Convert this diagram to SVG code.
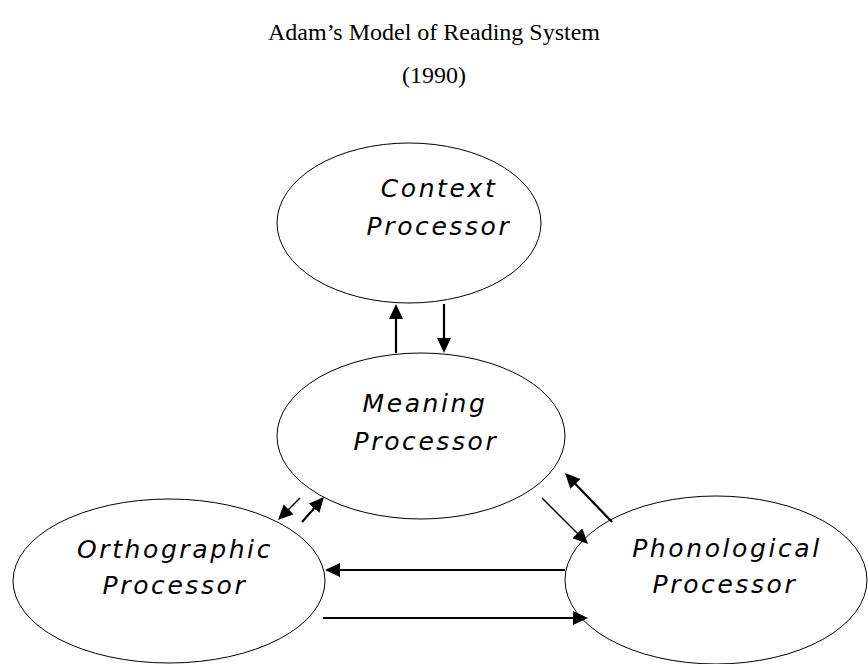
<svg xmlns="http://www.w3.org/2000/svg" width="868" height="664" viewBox="0 0 868 664">
<style>
.title{font-family:"Liberation Serif","Times New Roman",serif;font-size:24px;fill:#000;text-anchor:middle}
.node ellipse{fill:#fff;stroke:#000;stroke-width:1}
.node text{font-family:"DejaVu Sans",Verdana,sans-serif;font-style:italic;font-size:25px;letter-spacing:2.6px;fill:#000;text-anchor:middle}
.conn line{stroke:#000;stroke-width:2.2;marker-end:url(#ah)}
.conn line.thin{stroke-width:1.4}
</style>
<defs>
<marker id="ah" markerUnits="userSpaceOnUse" markerWidth="16" markerHeight="15" refX="2" refY="7" orient="auto" viewBox="0 0 16 15">
<path d="M0,0 L15,7 L0,14 z" fill="#000"/>
</marker>
</defs>
<rect width="868" height="664" fill="#fff"/>
<text class="title" x="434" y="40">Adam’s Model of Reading System</text>
<text class="title" x="434" y="83">(1990)</text>
<g id="context" class="node">
<ellipse cx="409" cy="223" rx="132" ry="80"/>
<text x="439" y="197">Context</text>
<text x="439" y="235">Processor</text>
</g>
<g id="meaning" class="node">
<ellipse cx="421" cy="436" rx="144" ry="83"/>
<text x="425" y="412">Meaning</text>
<text x="426" y="450">Processor</text>
</g>
<g id="orthographic" class="node">
<ellipse cx="169" cy="581" rx="156" ry="82"/>
<text x="175" y="558">Orthographic</text>
<text x="175" y="594">Processor</text>
</g>
<g id="phonological" class="node">
<ellipse cx="716" cy="580" rx="151" ry="84"/>
<text x="727" y="557">Phonological</text>
<text x="725" y="593">Processor</text>
</g>
<g id="connectors" class="conn">
<line x1="396" y1="353" x2="396" y2="317"/>
<line x1="444" y1="304" x2="444" y2="340"/>
<line class="thin" x1="542" y1="498" x2="578.8" y2="534.8"/>
<line x1="612" y1="522" x2="574" y2="482.4"/>
<line class="thin" x1="300" y1="498" x2="287.2" y2="510.8"/>
<line x1="302" y1="522" x2="315.4" y2="506.8"/>
<line x1="565" y1="570" x2="338" y2="570"/>
<line x1="323" y1="618" x2="575" y2="618"/>
</g>
</svg>
